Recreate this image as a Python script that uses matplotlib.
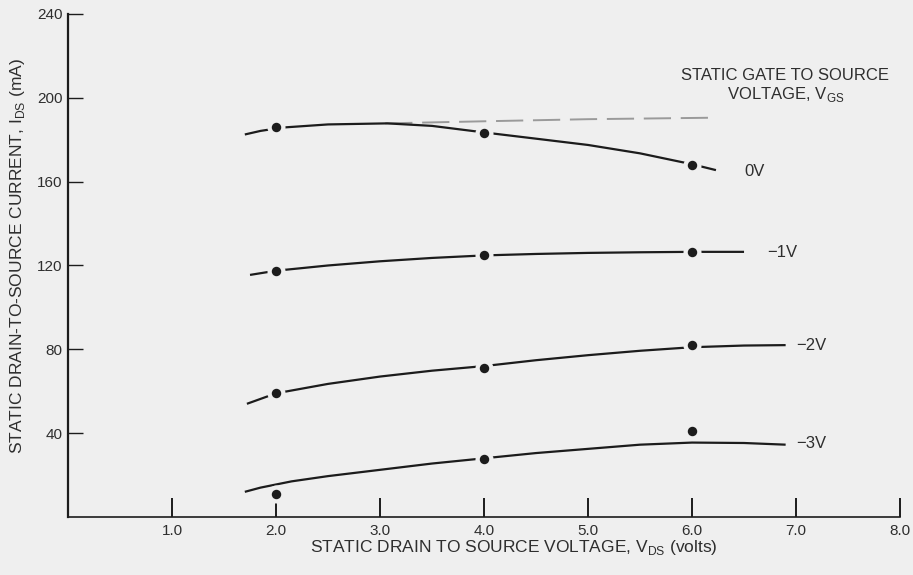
import numpy as np
import matplotlib.pyplot as plt

plt.rcParams['font.family'] = ['Liberation Sans', 'DejaVu Sans']

# measured points, V_DS in volts, I_DS in mA
vds_pts = [2.0, 4.0, 6.0]
ids_pts = {
    "0V": [186, 183, 168],
    "\u22121V": [117.5, 125, 126.5],
    "\u22122V": [59, 71, 82],
    "\u22123V": [11, 27.5, 41],
}

# faired curves through the measurements
curve_x = {
    "0V": [1.70, 1.85, 2.06, 2.5, 3.07, 3.5, 4.03, 4.5, 5.0, 5.5, 6.0, 6.23],
    "\u22121V": [1.75, 2.0, 2.5, 3.0, 3.5, 4.0, 4.5, 5.0, 5.5, 6.0, 6.5],
    "\u22122V": [1.72, 2.0, 2.5, 3.0, 3.5, 4.0, 4.5, 5.0, 5.5, 6.0, 6.5, 6.9],
    "\u22123V": [1.70, 1.85, 2.15, 2.5, 3.0, 3.5, 4.0, 4.5, 5.0, 5.5, 6.0, 6.5, 6.9],
}
curve_y = {
    "0V": [182.5, 184.2, 185.8, 187.3, 187.8, 186.6, 183.3, 180.5, 177.5, 173.5, 168.3, 165.5],
    "\u22121V": [115.5, 117.5, 120, 122, 123.6, 124.8, 125.5, 126.0, 126.3, 126.5, 126.5],
    "\u22122V": [54, 59, 63.5, 67, 69.8, 72, 74.8, 77.2, 79.3, 81, 81.8, 82],
    "\u22123V": [12, 14, 17, 19.5, 22.5, 25.5, 28, 30.5, 32.5, 34.5, 35.5, 35.3, 34.5],
}

# label positions (x, y) for the curve names
label_xy = {
    "0V": (6.5, 165),
    "\u22121V": (6.72, 126),
    "\u22122V": (7.0, 82),
    "\u22123V": (7.0, 35),
}

# 0V curve extrapolated without heating effects
dash_x = [3.05, 4.0, 5.0, 6.2]
dash_y = [187.8, 188.8, 189.8, 190.5]

bg = '#efefef'
ink = '#1c1c1c'
txt = '#2e2e2e'

fig = plt.figure(figsize=(9.13, 5.75), dpi=100, facecolor=bg)
ax = fig.add_axes([0.0745, 0.1009, 0.9113, 0.8748], facecolor=bg)

ax.plot(dash_x, dash_y, color='#9a9a9a', lw=1.4, dashes=(14, 5), zorder=2)

for name in ids_pts:
    ax.plot(curve_x[name], curve_y[name], color=ink, lw=1.6, zorder=3,
            solid_capstyle='butt')
    # background halo leaves a small gap in the curve around each point
    ax.plot(vds_pts, ids_pts[name], 'o', color=bg, ms=13, mew=0, zorder=4)
    ax.plot(vds_pts, ids_pts[name], 'o', color=ink, ms=6.8, mew=0, zorder=5)
    lx, ly = label_xy[name]
    ax.text(lx, ly, name, fontsize=12, color=txt, va='center', ha='left')

ax.text(0.862, 0.892, "STATIC GATE TO SOURCE\nVOLTAGE, V$_{\\mathregular{GS}}$",
        transform=ax.transAxes, ha='center', va='top', fontsize=12,
        color=txt, linespacing=1.1)

ax.set_xlim(0, 8)
ax.set_ylim(0, 240)
ax.spines['top'].set_visible(False)
ax.spines['right'].set_visible(False)
ax.spines['left'].set_linewidth(1.6)
ax.spines['bottom'].set_linewidth(1.2)
ax.spines['left'].set_color(ink)
ax.spines['bottom'].set_color(ink)

ax.set_xticks([1, 2, 3, 4, 5, 6, 7, 8])
ax.set_xticklabels(["1.0", "2.0", "3.0", "4.0", "5.0", "6.0", "7.0", "8.0"])
ax.set_yticks([40, 80, 120, 160, 200, 240])
ax.tick_params(axis='x', direction='in', length=14, width=1.4, pad=5,
               labelsize=11, colors=ink, labelcolor=txt)
ax.tick_params(axis='y', direction='in', length=11, width=1.0, pad=4,
               labelsize=11, colors=ink, labelcolor=txt)

fig.text(0.563, 0.047, "STATIC DRAIN TO SOURCE VOLTAGE, V$_{\\mathregular{DS}}$ (volts)",
         ha='center', va='center', fontsize=12.5, color=txt)
fig.text(0.019, 0.555, "STATIC DRAIN-TO-SOURCE CURRENT, I$_{\\mathregular{DS}}$ (mA)",
         ha='center', va='center', rotation=90, fontsize=12.5, color=txt)

fig.savefig("out.png", dpi=100, facecolor=bg)
